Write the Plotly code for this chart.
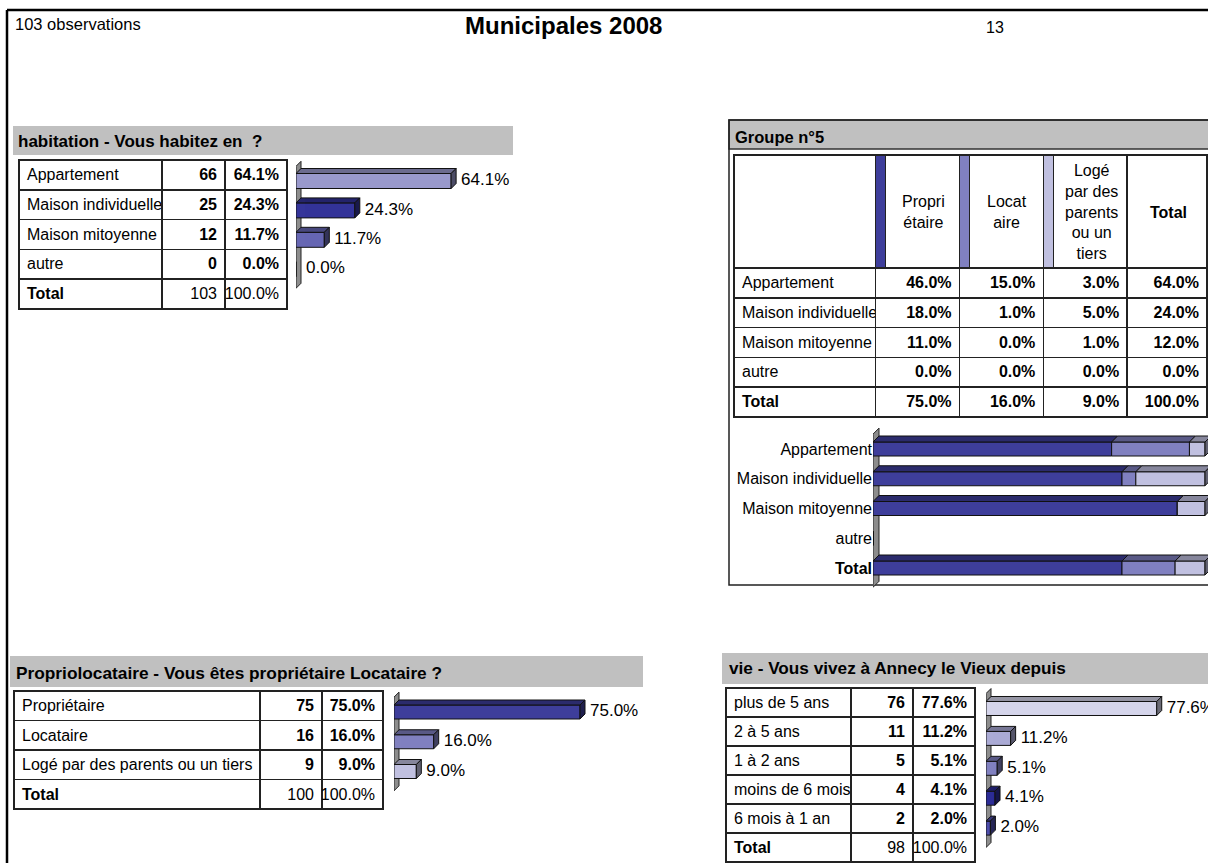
import plotly.graph_objects as go

W, H = 1208, 863
FONT = "Liberation Sans, Arial, sans-serif"

# habitation - Vous habitez en ?
hab_labels = ["Appartement", "Maison individuelle", "Maison mitoyenne", "autre"]
hab_counts = [66, 25, 12, 0]
hab_pcts = [64.1, 24.3, 11.7, 0.0]
hab_total = 103
hab_total_pct = 100.0
hab_colors = ["#9999cc", "#333399", "#6666b3", "#9999cc"]

# Groupe n°5 : habitation x propriolocataire (% of all answers)
grp_rows = ["Appartement", "Maison individuelle", "Maison mitoyenne", "autre", "Total"]
grp_cols = ["Propri<br>étaire", "Locat<br>aire", "Logé<br>par des<br>parents<br>ou un<br>tiers", "<b>Total</b>"]
grp_prop = [46.0, 18.0, 11.0, 0.0, 75.0]
grp_loc = [15.0, 1.0, 0.0, 0.0, 16.0]
grp_loge = [3.0, 5.0, 1.0, 0.0, 9.0]
grp_total = [64.0, 24.0, 12.0, 0.0, 100.0]
grp_colors = ["#3e3e9b", "#8080c0", "#c0c0e0"]

# Propriolocataire - Vous êtes propriétaire Locataire ?
prop_labels = ["Propriétaire", "Locataire", "Logé par des parents ou un tiers"]
prop_counts = [75, 16, 9]
prop_pcts = [75.0, 16.0, 9.0]
prop_total = 100
prop_total_pct = 100.0
prop_colors = ["#3e3e9b", "#8080c0", "#c0c0e0"]

# vie - Vous vivez à Annecy le Vieux depuis
vie_labels = ["plus de 5 ans", "2 à 5 ans", "1 à 2 ans", "moins de 6 mois", "6 mois à 1 an"]
vie_counts = [76, 11, 5, 4, 2]
vie_pcts = [77.6, 11.2, 5.1, 4.1, 2.0]
vie_total = 98
vie_total_pct = 100.0
vie_colors = ["#d5d5eb", "#aaaad5", "#8080c0", "#2a2a95", "#4b4baa"]


def nb(s):
    # non breaking spaces so plotly tables neither wrap nor grow the rows
    return s.replace(" ", "\u00a0")


def shade(c, f):
    r, g, b = int(c[1:3], 16), int(c[3:5], 16), int(c[5:7], 16)
    return "rgb(%d,%d,%d)" % (r * f, g * f, b * f)


fig = go.Figure()


def table(x0, x1, y0, rows, weights, widths, row_h, fills="white"):
    cols = list(zip(*rows))
    style = dict(height=row_h, align=["left"] + ["right"] * (len(widths) - 1),
                 fill_color=fills, line=dict(color="#222", width=1.5),
                 font=dict(family=FONT, size=16, color="black", weight=weights))
    y1 = min(y0 + row_h * len(rows) + 4, H)
    fig.add_trace(go.Table(domain=dict(x=[x0 / W, min(x1 / W, 1)], y=[1 - y1 / H, 1 - y0 / H]),
                           columnwidth=widths,
                           header=dict(values=[c[0] for c in cols], **style),
                           cells=dict(values=[list(c[1:]) for c in cols], **style)))


def freq_table(x0, x1, y0, widths, row_h, labels, counts, pcts, total, total_pct):
    rows = [[nb(l), "%d" % c, "%.1f%%" % p] for l, c, p in zip(labels, counts, pcts)]
    table(x0, x1, y0, rows, ["normal", "bold", "bold"], widths, row_h)
    table(x0, x1, y0 + row_h * len(rows), [["Total", str(total), "%.1f%%" % total_pct]],
          ["bold", "normal", "normal"], widths, row_h)


# ---- tables
freq_table(19, 287, 160, [143, 63, 62], 29.8, hab_labels, hab_counts, hab_pcts, hab_total, hab_total_pct)
freq_table(14, 383, 691, [246, 62, 61], 29.5, prop_labels, prop_counts, prop_pcts, prop_total, prop_total_pct)
freq_table(726, 975, 688, [125, 62, 62], 29, vie_labels, vie_counts, vie_pcts, vie_total, vie_total_pct)

# groupe header row (colour stripes) + data rows
table(734, 1208, 155, [[""] * 8], "normal", [142, 10, 74, 10, 74, 10, 74, 80], 113,
      fills=["white", grp_colors[0], "white", grp_colors[1], "white", grp_colors[2], "white", "white"])
grp_table = []
for i, r in enumerate(grp_rows):
    grp_table.append([nb(r)] + ["%.1f%%" % v[i] for v in (grp_prop, grp_loc, grp_loge, grp_total)])
table(734, 1208, 268, grp_table[:-1], ["normal"] + ["bold"] * 4, [142, 84, 84, 84, 80], 29.8)
table(734, 1208, 268 + 29.8 * 4, grp_table[-1:], "bold", [142, 84, 84, 84, 80], 29.8)

# ---- 3D-looking bar charts
charts = [
    dict(x0=296, ppu=2.42, yc0=181, sp=29.4, d=5, bw=15, n=4),
    dict(x0=873, ppu=3.32, yc0=449, sp=29.75, d=6, bw=14, n=5),
    dict(x0=394, ppu=2.48, yc0=712, sp=29.75, d=5, bw=14, n=3),
    dict(x0=986, ppu=2.2, yc0=708.5, sp=29.9, d=5, bw=14, n=5),
]
shapes = []
layout_axes = {}


def bars3d(k, g, series, labels=None):
    xa = "x" if k == 1 else "x%d" % k
    ya = "y" if k == 1 else "y%d" % k
    n = g["n"]
    dx, dy, hw = g["d"] / g["ppu"], g["d"] / g["sp"], g["bw"] / g["sp"] / 2
    layout_axes["xaxis" + ("" if k == 1 else str(k))] = dict(
        domain=[g["x0"] / W, 1], range=[0, (W - g["x0"]) / g["ppu"]], visible=False, anchor=ya)
    layout_axes["yaxis" + ("" if k == 1 else str(k))] = dict(
        domain=[max(0, 1 - (g["yc0"] + n * g["sp"]) / H), 1 - (g["yc0"] - g["sp"]) / H],
        range=[n, -1], anchor=xa, showgrid=False, zeroline=False, showline=False, ticks="",
        showticklabels=False, automargin=False)
    # back wall
    shapes.append(dict(type="path", xref=xa, yref=ya, layer="below",
                       path="M 0,%f L 0,-0.5 L %f,%f L %f,%f Z" % (n - 0.35, dx, -0.5 - dy, dx, n - 0.35 - dy),
                       fillcolor="#8c8c8c", line=dict(color="#222", width=1)))
    ys = list(range(n))
    base = [0.0] * n
    last = [None] * n
    for vals, colors in series:
        fig.add_trace(go.Bar(x=vals, y=ys, base=base[:], orientation="h", width=2 * hw,
                             marker=dict(color=colors, line=dict(color="#111", width=1)),
                             xaxis=xa, yaxis=ya, showlegend=False, hoverinfo="skip"))
        for i in range(n):
            if vals[i] <= 0:
                continue
            c = colors[i] if isinstance(colors, list) else colors
            s, e = base[i], base[i] + vals[i]
            fig.add_trace(go.Scatter(x=[s, e, e + dx, s + dx, s],
                                     y=[i - hw, i - hw, i - hw - dy, i - hw - dy, i - hw],
                                     fill="toself", fillcolor=shade(c, 0.7), mode="lines",
                                     line=dict(color="#111", width=1), xaxis=xa, yaxis=ya,
                                     showlegend=False, hoverinfo="skip"))
            base[i] = e
            last[i] = c
    for i in range(n):
        if last[i] is None:
            continue
        e = base[i]
        fig.add_trace(go.Scatter(x=[e, e + dx, e + dx, e, e],
                                 y=[i + hw, i + hw - dy, i - hw - dy, i - hw, i + hw],
                                 fill="toself", fillcolor=shade(last[i], 0.5), mode="lines",
                                 line=dict(color="#111", width=1), xaxis=xa, yaxis=ya,
                                 showlegend=False, hoverinfo="skip"))
    if labels is not None:
        fig.add_trace(go.Scatter(x=[b + dx + 5 / g["ppu"] for b in base], y=ys, mode="text",
                                 text=["%.1f%%" % v for v in labels], textposition="middle right",
                                 textfont=dict(family=FONT, size=17, color="black"),
                                 cliponaxis=False, xaxis=xa, yaxis=ya, showlegend=False,
                                 hoverinfo="skip"))


bars3d(1, charts[0], [(hab_pcts, hab_colors)], hab_pcts)

# groupe: each row shown as 100 % stacked bar
grp_share = []
for vals in (grp_prop, grp_loc, grp_loge):
    grp_share.append([v / t * 100 if t else 0 for v, t in zip(vals, grp_total)])
bars3d(2, charts[1], list(zip(grp_share, grp_colors)))
layout_axes["yaxis2"].update(showticklabels=True, tickvals=list(range(len(grp_rows))),
                             ticktext=["<b>Total</b>" if r == "Total" else r for r in grp_rows],
                             tickfont=dict(family=FONT, size=16, color="black"))

bars3d(3, charts[2], [(prop_pcts, prop_colors)], prop_pcts)
bars3d(4, charts[3], [(vie_pcts, vie_colors)], vie_pcts)


def rect(x0, y0, x1, y1, **kw):
    return dict(type="rect", xref="paper", yref="paper", x0=x0 / W, x1=x1 / W,
                y0=1 - y1 / H, y1=1 - y0 / H, layer="below", **kw)


# page frame, grey title bands, groupe box
shapes += [
    dict(type="line", xref="paper", yref="paper", x0=7 / W, x1=1, y0=1 - 10 / H, y1=1 - 10 / H,
         line=dict(color="black", width=2.5)),
    dict(type="line", xref="paper", yref="paper", x0=7 / W, x1=7 / W, y0=0, y1=1 - 10 / H,
         line=dict(color="black", width=2.5)),
    rect(13, 126, 513, 155, fillcolor="#c0c0c0", line=dict(width=0)),
    rect(10, 656, 643, 687, fillcolor="#c0c0c0", line=dict(width=0)),
    rect(722, 653, 1210, 684, fillcolor="#c0c0c0", line=dict(width=0)),
    rect(729, 120, 1212, 149, fillcolor="#c0c0c0", line=dict(color="#333", width=1.5)),
    rect(729, 120, 1212, 585, line=dict(color="#222", width=1.5)),
]


def ann(x, y, text, size=16, bold=False, xanchor="left", align="left"):
    return dict(x=x / W, y=1 - y / H, xref="paper", yref="paper", text="<b>%s</b>" % text if bold else text,
                showarrow=False, xanchor=xanchor, yanchor="middle", align=align,
                font=dict(family=FONT, size=size, color="black"))


annotations = [
    ann(13, 24, "103 observations", size=16.5),
    ann(563, 25, "Municipales 2008", size=24, bold=True, xanchor="center"),
    ann(995, 28, "13", size=16, xanchor="center"),
    ann(16, 141, "habitation - Vous habitez en&nbsp; ?", size=17, bold=True),
    ann(733, 137, "Groupe n°5", size=16.5, bold=True),
    ann(14, 673, "Propriolocataire - Vous êtes propriétaire Locataire ?", size=17.3, bold=True),
    ann(727, 668, "vie - Vous vivez à Annecy le Vieux depuis", size=17.2, bold=True),
]
for cx, txt in zip([923, 1007, 1091, 1168], grp_cols):
    annotations.append(ann(cx, 212, txt, xanchor="center", align="center"))

fig.update_layout(width=W, height=H, margin=dict(l=0, r=0, t=0, b=0),
                  paper_bgcolor="white", plot_bgcolor="rgba(0,0,0,0)",
                  barmode="overlay", showlegend=False, shapes=shapes, annotations=annotations,
                  font=dict(family=FONT), **layout_axes)

fig.write_html("out.html", config={"displayModeBar": False},
               post_script="document.body.style.margin='0';")
